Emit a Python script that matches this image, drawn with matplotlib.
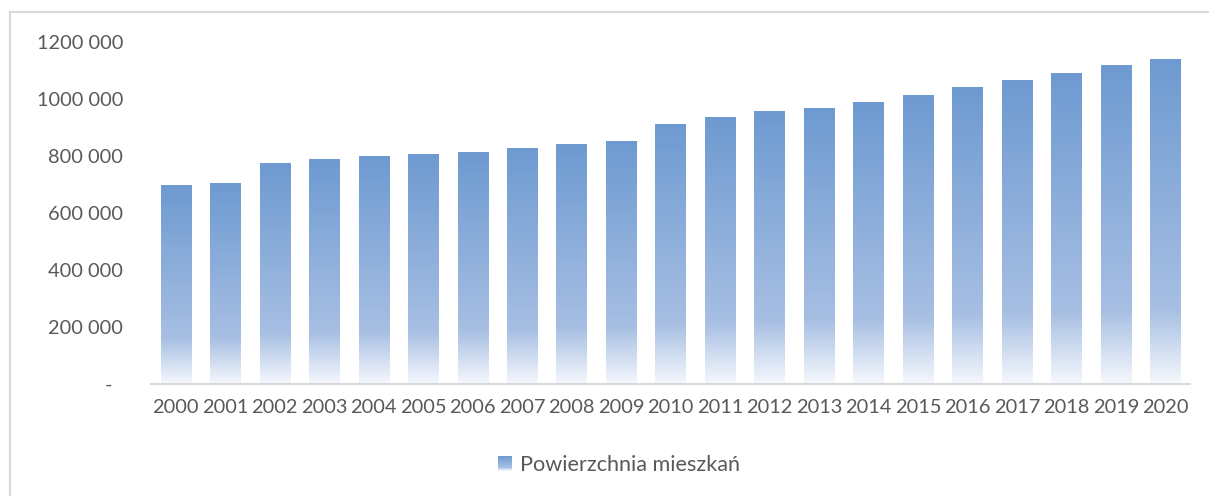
import matplotlib
matplotlib.use("Agg")
import matplotlib.pyplot as plt
import numpy as np
from matplotlib.colors import LinearSegmentedColormap
from matplotlib.patches import Rectangle
from matplotlib.legend_handler import HandlerBase
from matplotlib.lines import Line2D

years = [str(y) for y in range(2000, 2021)]
values = [694600, 701600, 771600, 785600, 796100, 803100, 810100, 824100, 838100, 848600,
          908100, 932600, 953600, 964100, 985100, 1009800, 1037800, 1062300, 1086800,
          1114800, 1135800]
ytick_values = [0, 200000, 400000, 600000, 800000, 1000000, 1200000]
ytick_labels = ["-  ", "200 000", "400 000", "600 000", "800 000", "1000 000", "1200 000"]
series_name = "Powierzchnia mieszkań"

plt.rcParams['font.family'] = ['Lato', 'DejaVu Sans']
TXT = '#595959'
FS = 14.4
FS_LEG = 15.6

cmap = LinearSegmentedColormap.from_list(
    'grad',
    [(0.0, (245/255, 248/255, 253/255)),
     (0.23, (167/255, 191/255, 227/255)),
     (1.0, (110/255, 154/255, 209/255))])

W, H = 1209, 496
fig = plt.figure(figsize=(W/100, H/100), dpi=100)
ax = fig.add_axes([151/W, 1 - 384.3/H, (1190-151)/W, (384.3-41.7)/H])

x = np.arange(len(years))
bars = ax.bar(x, values, width=0.61, color='none', edgecolor='none')
grad = np.linspace(0, 1, 256).reshape(-1, 1)
for b in bars:
    ax.imshow(grad, cmap=cmap, origin='lower', aspect='auto', interpolation='bilinear',
              extent=[b.get_x(), b.get_x() + b.get_width(), 0, b.get_height()], zorder=2)

ax.set_xlim(-0.5, len(years) - 0.5)
ax.set_ylim(0, 1200000)
ax.set_xticks(x)
ax.set_xticklabels(years)
ax.set_yticks(ytick_values)
ax.set_yticklabels(ytick_labels)
ax.tick_params(axis='both', length=0, labelsize=FS, colors=TXT)
ax.tick_params(axis='x', pad=10.5)
ax.tick_params(axis='y', pad=20)
for s in ['top', 'right', 'left']:
    ax.spines[s].set_visible(False)
ax.spines['bottom'].set_color('#D9D9D9')
ax.spines['bottom'].set_linewidth(1.5)
ax.set_facecolor('none')

# chart border (left and top visible)
fig.add_artist(Line2D([10/W, 10/W], [0, 1 - 12/H], color='#D9D9D9', lw=1.5, transform=fig.transFigure))
fig.add_artist(Line2D([10/W, 1], [1 - 12/H, 1 - 12/H], color='#D9D9D9', lw=1.5, transform=fig.transFigure))


class GradHandler(HandlerBase):
    def create_artists(self, legend, orig_handle, xdescent, ydescent, width, height, fontsize, trans):
        n = 24
        side = width
        y0 = -ydescent + (height - side) / 2
        arts = []
        for i in range(n):
            r = Rectangle((-xdescent, y0 + side * i / n), side, side / n + 0.05,
                          facecolor=cmap((i + 0.5) / n), edgecolor='none', transform=trans)
            arts.append(r)
        return arts


proxy = Rectangle((0, 0), 1, 1)
leg = fig.legend([proxy], [series_name], handler_map={Rectangle: GradHandler()},
                 loc='center', bbox_to_anchor=(619/W, 1 - 465/H), frameon=False,
                 fontsize=FS_LEG, handlelength=10.3/FS_LEG, handleheight=0.7, handletextpad=0.35,
                 borderpad=0)
for t in leg.get_texts():
    t.set_color(TXT)

fig.savefig('out.png', dpi=100)
